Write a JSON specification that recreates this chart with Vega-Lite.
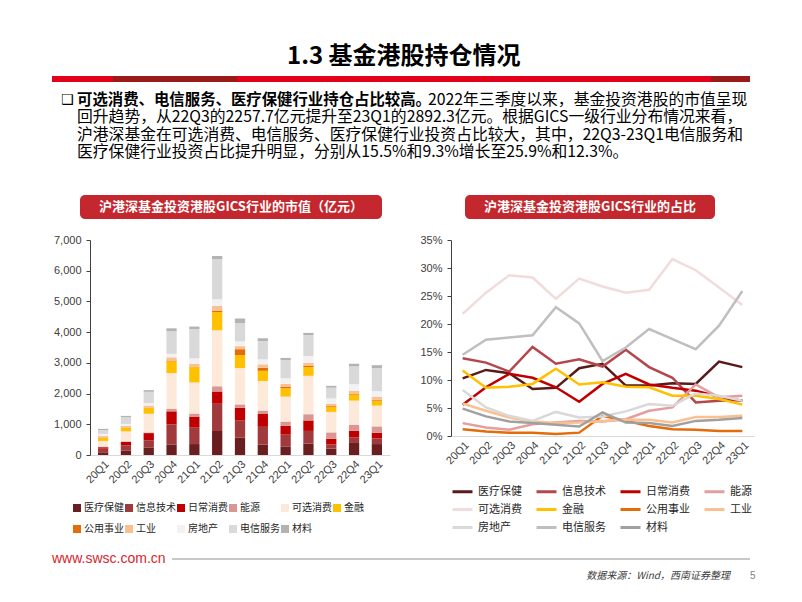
{
  "$schema": "https://vega.github.io/schema/vega-lite/v6.json",
  "background": "white",
  "padding": {"left": 52, "top": 45, "right": 0, "bottom": 0},
  "title": {"text": "1.3 基金港股持仓情况", "fontSize": 24, "fontWeight": "bold", "font": "Noto Sans CJK SC", "color": "#000000", "anchor": "middle", "offset": 7},
  "bounds": "flush",
  "spacing": 0,
  "datasets": {
    "bars": [
      {"q": "20Q1", "医疗保健": 88, "信息技术": 118, "日常消费": 48, "能源": 20, "可选消费": 185, "金融": 99, "公用事业": 10, "工业": 49, "房地产": 70, "电信服务": 123, "材料": 42},
      {"q": "20Q2", "医疗保健": 150, "信息技术": 166, "日常消费": 110, "能源": 19, "可选消费": 325, "金融": 109, "公用事业": 10, "工业": 57, "房地产": 65, "电信服务": 218, "材料": 44},
      {"q": "20Q3", "医疗保健": 236, "信息技术": 243, "日常消费": 234, "能源": 23, "可选消费": 606, "金融": 186, "公用事业": 13, "工业": 70, "房地产": 76, "电信服务": 371, "材料": 55},
      {"q": "20Q4", "医疗保健": 344, "信息技术": 652, "日常消费": 426, "能源": 86, "可选消费": 1160, "金融": 381, "公用事业": 25, "工业": 107, "房地产": 111, "电信服务": 738, "材料": 94},
      {"q": "21Q1", "医疗保健": 356, "信息技术": 534, "日常消费": 360, "能源": 99, "可选消费": 1014, "金融": 497, "公用事业": 14, "工业": 95, "房地产": 178, "电信服务": 952, "材料": 83},
      {"q": "21Q2", "医疗保健": 784, "信息技术": 888, "日常消费": 395, "能源": 175, "可选消费": 1821, "金融": 596, "公用事业": 39, "工业": 156, "房地产": 214, "电信服务": 1302, "材料": 110},
      {"q": "21Q3", "医疗保健": 571, "信息技术": 549, "日常消费": 412, "能源": 115, "可选消费": 1183, "金融": 425, "公用事业": 190, "工业": 100, "房地产": 155, "电信服务": 594, "材料": 150},
      {"q": "21Q4", "医疗保健": 338, "信息技术": 579, "日常消费": 417, "能源": 113, "可选消费": 963, "金融": 331, "公用事业": 102, "工业": 109, "房地产": 165, "电信服务": 594, "材料": 90},
      {"q": "22Q1", "医疗保健": 280, "信息技术": 383, "日常消费": 286, "能源": 140, "可选消费": 812, "金融": 271, "公用事业": 56, "工业": 90, "房地产": 177, "电信服务": 594, "材料": 72},
      {"q": "22Q2", "医疗保健": 372, "信息技术": 412, "日常消费": 341, "能源": 202, "可选消费": 1251, "金融": 285, "公用事业": 48, "工业": 95, "房地产": 214, "电信服务": 685, "材料": 71},
      {"q": "22Q3", "医疗保健": 210, "信息技术": 135, "日常消费": 183, "能源": 208, "可选消费": 668, "金融": 163, "公用事业": 25, "工业": 77, "房地产": 172, "电信服务": 350, "材料": 61},
      {"q": "22Q4", "医疗保健": 392, "信息技术": 186, "日常消费": 207, "能源": 204, "可选消费": 782, "金融": 195, "公用事业": 27, "工业": 100, "房地产": 212, "电信服务": 581, "材料": 86},
      {"q": "23Q1", "医疗保健": 356, "信息技术": 185, "日常消费": 182, "能源": 208, "可选消费": 677, "金融": 162, "公用事业": 26, "工业": 104, "房地产": 182, "电信服务": 749, "材料": 93}
    ],
    "shares": [
      {"q": "20Q1", "医疗保健": 10.3, "信息技术": 13.9, "日常消费": 5.6, "能源": 2.3, "可选消费": 21.8, "金融": 11.7, "公用事业": 1.2, "工业": 5.8, "房地产": 8.2, "电信服务": 14.5, "材料": 4.9},
      {"q": "20Q2", "医疗保健": 11.8, "信息技术": 13.1, "日常消费": 8.7, "能源": 1.5, "可选消费": 25.6, "金融": 8.6, "公用事业": 0.8, "工业": 4.5, "房地产": 5.1, "电信服务": 17.2, "材料": 3.5},
      {"q": "20Q3", "医疗保健": 11.2, "信息技术": 11.5, "日常消费": 11.1, "能源": 1.1, "可选消费": 28.7, "金融": 8.8, "公用事业": 0.6, "工业": 3.3, "房地产": 3.6, "电信服务": 17.6, "材料": 2.6},
      {"q": "20Q4", "医疗保健": 8.4, "信息技术": 15.9, "日常消费": 10.4, "能源": 2.1, "可选消费": 28.3, "金融": 9.3, "公用事业": 0.6, "工业": 2.6, "房地产": 2.7, "电信服务": 18.0, "材料": 2.3},
      {"q": "21Q1", "医疗保健": 8.6, "信息技术": 12.9, "日常消费": 8.7, "能源": 2.4, "可选消费": 24.5, "金融": 12.0, "公用事业": 0.35, "工业": 2.3, "房地产": 4.3, "电信服务": 23.0, "材料": 2.0},
      {"q": "21Q2", "医疗保健": 12.1, "信息技术": 13.7, "日常消费": 6.1, "能源": 2.7, "可选消费": 28.1, "金融": 9.2, "公用事业": 0.6, "工业": 2.4, "房地产": 3.3, "电信服务": 20.1, "材料": 1.7},
      {"q": "21Q3", "医疗保健": 12.9, "信息技术": 12.4, "日常消费": 9.3, "能源": 2.6, "可选消费": 26.7, "金融": 9.6, "公用事业": 3.6, "工业": 2.7, "房地产": 3.5, "电信服务": 13.4, "材料": 4.2},
      {"q": "21Q4", "医疗保健": 9.0, "信息技术": 15.4, "日常消费": 11.1, "能源": 3.0, "可选消费": 25.6, "金融": 8.8, "公用事业": 2.7, "工业": 2.9, "房地产": 4.4, "电信服务": 15.8, "材料": 2.4},
      {"q": "22Q1", "医疗保健": 9.0, "信息技术": 12.3, "日常消费": 9.2, "能源": 4.5, "可选消费": 26.1, "金融": 8.7, "公用事业": 1.8, "工业": 2.9, "房地产": 5.7, "电信服务": 19.1, "材料": 2.3},
      {"q": "22Q2", "医疗保健": 9.4, "信息技术": 10.4, "日常消费": 8.6, "能源": 5.1, "可选消费": 31.6, "金融": 7.2, "公用事业": 1.2, "工业": 2.4, "房地产": 5.4, "电信服务": 17.3, "材料": 1.8},
      {"q": "22Q3", "医疗保健": 9.3, "信息技术": 6.0, "日常消费": 8.1, "能源": 9.2, "可选消费": 29.6, "金融": 7.2, "公用事业": 1.1, "工业": 3.4, "房地产": 7.6, "电信服务": 15.5, "材料": 2.7},
      {"q": "22Q4", "医疗保健": 13.3, "信息技术": 6.3, "日常消费": 7.0, "能源": 6.9, "可选消费": 26.5, "金融": 6.6, "公用事业": 0.9, "工业": 3.4, "房地产": 7.2, "电信服务": 19.7, "材料": 2.9},
      {"q": "23Q1", "医疗保健": 12.3, "信息技术": 6.4, "日常消费": 6.3, "能源": 7.2, "可选消费": 23.4, "金融": 5.6, "公用事业": 0.9, "工业": 3.6, "房地产": 6.3, "电信服务": 25.9, "材料": 3.2}
    ]
  },
  "vconcat": [
    {
      "width": 698, "height": 119,
      "layer": [
        {"data": {"values": [{}]}, "mark": {"type": "rect", "color": "#e3001b"}, "encoding": {"x": {"value": 0}, "x2": {"value": 698}, "y": {"value": 0}, "y2": {"value": 6}}},
        {"data": {"values": [{}]}, "mark": {"type": "rect", "color": "#9a1a1a"}, "encoding": {"x": {"value": 61}, "x2": {"value": 185}, "y": {"value": 0}, "y2": {"value": 6}}},
        {"data": {"values": [{}]}, "mark": {"type": "rect", "color": "#9a1a1a"}, "encoding": {"x": {"value": 659}, "x2": {"value": 698}, "y": {"value": 0}, "y2": {"value": 6}}},
        {
          "data": {"values": [
            {"line": 1, "part": "bullet", "text": "❑"},
            {"line": 1, "part": "bold", "text": "可选消费、电信服务、医疗保健行业持仓占比较高。"},
            {"line": 1, "part": "tail", "text": "2022年三季度以来，基金投资港股的市值呈现"},
            {"line": 2, "part": "body", "text": "回升趋势，从22Q3的2257.7亿元提升至23Q1的2892.3亿元。根据GICS一级行业分布情况来看，"},
            {"line": 3, "part": "body", "text": "沪港深基金在可选消费、电信服务、医疗保健行业投资占比较大，其中，22Q3-23Q1电信服务和"},
            {"line": 4, "part": "body", "text": "医疗保健行业投资占比提升明显，分别从15.5%和9.3%增长至25.9%和12.3%。"}
          ]},
          "encoding": {
            "y": {"field": "line", "type": "ordinal", "axis": null, "scale": {"type": "point", "range": [24, 76], "padding": 0}},
            "text": {"field": "text"}
          },
          "layer": [
            {"transform": [{"filter": "datum.part == 'bullet'"}], "mark": {"type": "text", "align": "left", "baseline": "middle", "font": "DejaVu Sans", "fontSize": 14, "color": "#000000", "x": 9}},
            {"transform": [{"filter": "datum.part == 'bold'"}], "mark": {"type": "text", "align": "left", "baseline": "middle", "font": "Noto Sans CJK SC", "fontWeight": "bold", "fontSize": 15.4, "color": "#000000", "x": 25}},
            {"transform": [{"filter": "datum.part == 'tail'"}], "mark": {"type": "text", "align": "left", "baseline": "middle", "font": "Noto Sans CJK SC", "fontSize": 15.8, "color": "#000000", "x": 376}},
            {"transform": [{"filter": "datum.part == 'body'"}], "mark": {"type": "text", "align": "left", "baseline": "middle", "font": "Noto Sans CJK SC", "fontSize": 15.8, "color": "#000000", "x": 25}}
          ]
        }
      ]
    },
    {
      "hconcat": [
        {"width": 28, "height": 24, "data": {"values": [{}]}, "mark": {"type": "text", "text": ""}},
        {
          "width": 302, "height": 24,
          "data": {"values": [{"t": "沪港深基金投资港股GICS行业的市值（亿元）"}]},
          "layer": [
            {"mark": {"type": "rect", "color": "#c4272d", "cornerRadius": 5}},
            {"mark": {"type": "text", "color": "#ffffff", "fontSize": 13, "fontWeight": "bold", "font": "Noto Sans CJK SC", "baseline": "middle"}, "encoding": {"text": {"field": "t"}}}
          ]
        },
        {"width": 83, "height": 24, "data": {"values": [{}]}, "mark": {"type": "text", "text": ""}},
        {
          "width": 250, "height": 24,
          "data": {"values": [{"t": "沪港深基金投资港股GICS行业的占比"}]},
          "layer": [
            {"mark": {"type": "rect", "color": "#c4272d", "cornerRadius": 5}},
            {"mark": {"type": "text", "color": "#ffffff", "fontSize": 13, "fontWeight": "bold", "font": "Noto Sans CJK SC", "baseline": "middle"}, "encoding": {"text": {"field": "t"}}}
          ]
        }
      ],
      "spacing": 0,
      "bounds": "flush"
    },
    {"width": 10, "height": 45, "data": {"values": [{}]}, "mark": {"type": "text", "text": ""}},
    {
      "hconcat": [
        {"width": 38, "height": 10, "data": {"values": [{}]}, "mark": {"type": "text", "text": ""}},
        {
          "width": 300, "height": 215,
          "data": {"name": "bars"},
          "transform": [
            {"fold": ["医疗保健", "信息技术", "日常消费", "能源", "可选消费", "金融", "公用事业", "工业", "房地产", "电信服务", "材料"], "as": ["cat", "v"]},
            {"calculate": "indexof(['医疗保健','信息技术','日常消费','能源','可选消费','金融','公用事业','工业','房地产','电信服务','材料'], datum.cat)", "as": "ord"}
          ],
          "mark": {"type": "bar"},
          "encoding": {
            "x": {"field": "q", "type": "ordinal", "sort": null, "scale": {"paddingInner": 0.55, "paddingOuter": 0.35},
              "axis": {"title": null, "labelAngle": -45, "labelFontSize": 11, "labelColor": "#404040", "labelFont": "Liberation Sans", "ticks": false, "domainColor": "#d9d9d9", "domainWidth": 1, "labelPadding": 3}},
            "y": {"field": "v", "type": "quantitative", "stack": "zero", "scale": {"domain": [0, 7000], "nice": false},
              "axis": {"title": null, "values": [0, 1000, 2000, 3000, 4000, 5000, 6000, 7000], "format": ",.0f", "grid": false, "domainColor": "#404040", "tickColor": "#404040", "tickSize": 4, "labelFontSize": 11, "labelColor": "#404040", "labelFont": "Liberation Sans", "labelPadding": 5}},
            "color": {"field": "cat", "type": "nominal",
              "scale": {"domain": ["医疗保健", "信息技术", "日常消费", "能源", "可选消费", "金融", "公用事业", "工业", "房地产", "电信服务", "材料"],
                        "range": ["#691f1f", "#a03a3c", "#c00000", "#d99694", "#fde9d9", "#ffc000", "#e46c0a", "#fac090", "#f2f2f2", "#d9d9d9", "#b3b3b3"]},
              "legend": {"title": null, "orient": "none", "legendX": -18, "legendY": 263, "direction": "horizontal", "columns": 6, "symbolType": "square", "symbolSize": 64, "symbolStrokeWidth": 0, "labelFontSize": 10, "labelFont": "Noto Sans CJK SC", "labelColor": "#262626", "columnPadding": 0, "rowPadding": 11, "labelOffset": 2}},
            "order": {"field": "ord", "type": "quantitative"}
          }
        },
        {"width": 61, "height": 10, "data": {"values": [{}]}, "mark": {"type": "text", "text": ""}},
        {
          "width": 303, "height": 196,
          "data": {"name": "shares"},
          "transform": [
            {"fold": ["医疗保健", "信息技术", "日常消费", "能源", "可选消费", "金融", "公用事业", "工业", "房地产", "电信服务", "材料"], "as": ["cat", "p"]}
          ],
          "mark": {"type": "line", "strokeWidth": 2.5},
          "encoding": {
            "x": {"field": "q", "type": "ordinal", "sort": null, "scale": {"type": "point", "padding": 0.5},
              "axis": {"title": null, "labelAngle": -45, "labelFontSize": 11, "labelColor": "#404040", "labelFont": "Liberation Sans", "ticks": false, "domainColor": "#d9d9d9", "domainWidth": 1, "labelPadding": 3}},
            "y": {"field": "p", "type": "quantitative", "scale": {"domain": [0, 35], "nice": false},
              "axis": {"title": null, "values": [0, 5, 10, 15, 20, 25, 30, 35], "labelExpr": "datum.value + '%'", "grid": false, "domainColor": "#404040", "tickColor": "#404040", "tickSize": 4, "labelFontSize": 11, "labelColor": "#404040", "labelFont": "Liberation Sans", "labelPadding": 5}},
            "color": {"field": "cat", "type": "nominal",
              "scale": {"domain": ["医疗保健", "信息技术", "日常消费", "能源", "可选消费", "金融", "公用事业", "工业", "房地产", "电信服务", "材料"],
                        "range": ["#5a1a1a", "#b5464b", "#c00000", "#e39e9e", "#f2dcdb", "#ffc000", "#e46c0a", "#fac090", "#d9d9d9", "#bfbfbf", "#a0a0a0"]},
              "legend": {"title": null, "orient": "none", "legendX": 0, "legendY": 240, "direction": "horizontal", "columns": 4, "gridAlign": "all", "symbolType": "stroke", "symbolSize": 400, "symbolStrokeWidth": 3, "labelFontSize": 11, "labelFont": "Noto Sans CJK SC", "labelColor": "#262626", "columnPadding": 8, "rowPadding": -3, "labelOffset": 4}}
          }
        }
      ],
      "spacing": 0,
      "bounds": "flush",
      "resolve": {"scale": {"color": "independent"}, "legend": {"color": "independent"}}
    },
    {"width": 10, "height": 318, "data": {"values": [{}]}, "mark": {"type": "text", "text": ""}},
    {
      "hconcat": [
        {"width": 120, "height": 2, "data": {"values": [{"t": "www.swsc.com.cn"}]}, "mark": {"type": "text", "align": "left", "baseline": "middle", "x": 0, "font": "Liberation Sans", "fontSize": 14, "color": "#d6262e"}, "encoding": {"text": {"field": "t"}}},
        {"width": 578, "height": 2, "data": {"values": [{}]}, "mark": {"type": "rect", "color": "#c8c8c8"}}
      ],
      "spacing": 0,
      "bounds": "flush"
    },
    {"width": 10, "height": 17, "data": {"values": [{}]}, "mark": {"type": "text", "text": ""}},
    {
      "width": 698, "height": 2,
      "layer": [
        {"data": {"values": [{"t": "数据来源：Wind，西南证券整理"}]}, "mark": {"type": "text", "align": "right", "baseline": "middle", "x": 678, "font": "Noto Sans CJK SC", "fontStyle": "italic", "fontSize": 10, "color": "#404040"}, "encoding": {"text": {"field": "t"}}},
        {"data": {"values": [{"t": "5"}]}, "mark": {"type": "text", "align": "left", "baseline": "middle", "x": 698, "font": "Liberation Sans", "fontSize": 10, "color": "#808080"}, "encoding": {"text": {"field": "t"}}}
      ]
    }
  ],
  "config": {"view": {"stroke": null}, "font": "Noto Sans CJK SC"}
}
